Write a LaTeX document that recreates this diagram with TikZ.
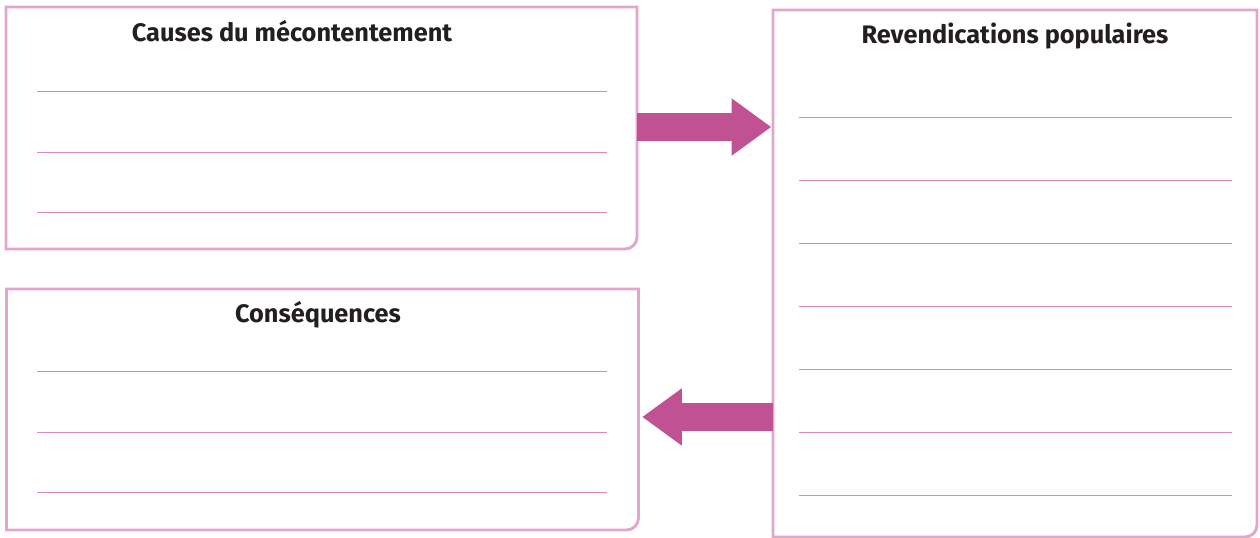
\documentclass[tikz,border=0pt]{standalone}
\usepackage{fontspec}
\setmainfont{Fira Sans}
\usepackage{xcolor}
\usepackage{tikz}
\usetikzlibrary{positioning,calc,arrows.meta}

\definecolor{cadre}{RGB}{226,166,204}
\definecolor{trait}{RGB}{214,138,186}
\definecolor{fleche}{RGB}{192,82,148}
\definecolor{encre}{RGB}{35,31,32}

\begin{document}
\begin{tikzpicture}[
    x=0.75pt, y=-0.75pt,
    panel/.style={rectangle, inner sep=0pt, outer sep=0pt},
    titre/.style={anchor=base, font=\bfseries\fontsize{19}{22}\selectfont, text=encre},
    contour/.style={draw=cadre, line width=2.2pt},
    ligne/.style={draw=trait, line width=0.6pt},
    grosse/.style={fleche, line width=20.5pt,
        -{Triangle[length=29.5pt, width=43pt, line width=0pt]}}
]
    \useasboundingbox (0,0) rectangle (1260,538);

    % the three panels
    \node [panel, minimum width=473.25pt, minimum height=181.5pt] (causes) at (321.5,128) {};
    \node [panel, minimum width=474pt, minimum height=180.75pt] (csq) at (322.5,409.5) {};
    \node [panel, minimum width=363pt, minimum height=395.25pt] (revend) at (1015,273.5) {};

    \draw [contour] (causes.north west) -- (causes.north east) -- ([yshift=9pt]causes.south east)
        arc [start angle=0, end angle=-90, radius=9pt] -- (causes.south west) -- cycle;
    \draw [contour] (csq.north west) -- (csq.north east) -- ([yshift=9pt]csq.south east)
        arc [start angle=0, end angle=-90, radius=9pt] -- (csq.south west) -- cycle;
    \draw [contour] (revend.north west) -- (revend.north east) -- ([yshift=9pt]revend.south east)
        arc [start angle=0, end angle=-90, radius=9pt] -- (revend.south west) -- cycle;

    % titles
    \node [titre] (tcauses) at (292,41.5) {Causes du mécontentement};
    \node [titre] (tcsq) at (318,322.3) {Conséquences};
    \node [titre] (trevend) at (1015,44) {Revendications populaires};

    % writing lines
    \foreach \y in {91,152,212}
        \draw [ligne] (37,\y) -- (607,\y);
    \foreach \y in {371,432,492}
        \draw [ligne] (37,\y) -- (607,\y);
    \foreach \y in {117,180,243,306,369,432,495}
        \draw [ligne] (799,\y) -- (1232,\y);

    % arrows
    \coordinate (a1) at ([yshift=0.75pt]causes.east);
    \coordinate (a2) at ([yshift=-5.6pt]csq.east);
    \draw [grosse] (a1) -- ([xshift=-1.5pt]a1 -| revend.west);
    \draw [grosse] (a2 -| revend.west) -- ([xshift=3pt]a2);
\end{tikzpicture}
\end{document}
